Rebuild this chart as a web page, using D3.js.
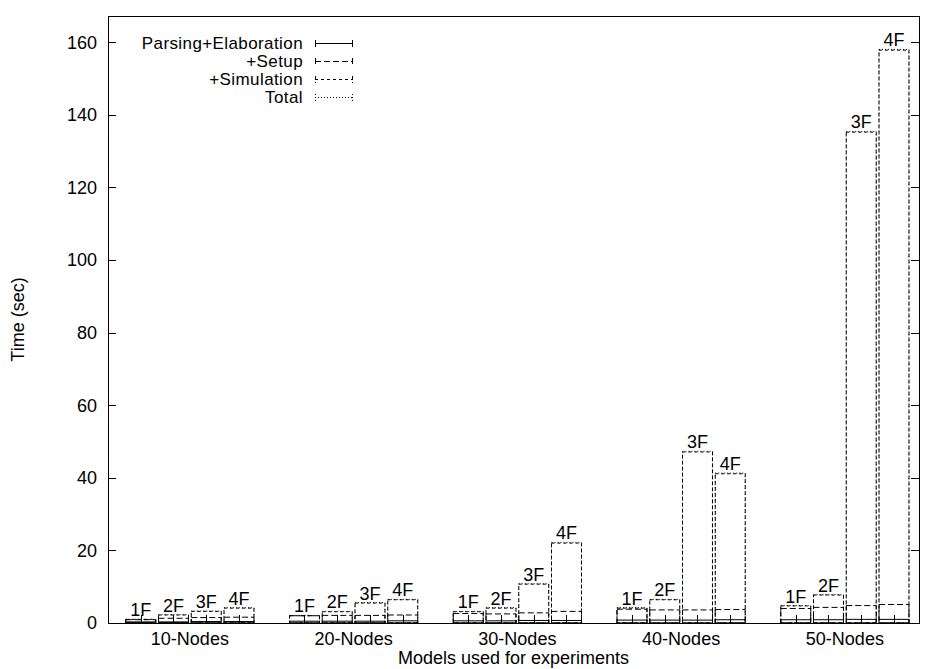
<!DOCTYPE html>
<html>
<head>
<meta charset="utf-8">
<script src="https://cdn.jsdelivr.net/npm/d3@7"></script>
<style>
  body { margin: 0; background: #fff; }
  text { font-family: "Liberation Sans", Arial, sans-serif; font-size: 18px; fill: #000; }
</style>
</head>
<body>
<svg id="chart" width="929" height="669"></svg>
<script>
// models (x groups) and bars within each group
const models = ["10-Nodes", "20-Nodes", "30-Nodes", "40-Nodes", "50-Nodes"];
const faults = ["1F", "2F", "3F", "4F"];

// cumulative times (sec), one row per model, one value per fault count
const parsing = [
    [0.3, 0.3, 0.4, 0.4],
    [0.5, 0.5, 0.5, 0.6],
    [0.6, 0.6, 0.7, 0.7],
    [0.8, 0.8, 0.8, 0.9],
    [0.9, 0.9, 1.0, 1.0]
];
const setup = [
    [0.9, 1.3, 1.5, 1.6],
    [2.0, 2.1, 2.1, 2.2],
    [2.6, 2.5, 2.8, 3.2],
    [3.8, 3.6, 3.6, 3.7],
    [4.0, 4.3, 4.8, 5.1]
];
const simulation = [
    [1.0, 2.2, 3.2, 4.1],
    [2.0, 3.1, 5.5, 6.4],
    [3.1, 4.1, 10.7, 22.0],
    [4.1, 6.4, 47.1, 41.1],
    [4.7, 7.7, 135.2, 157.8]
];
const total = [
    [1.0, 2.3, 3.3, 4.2],
    [2.1, 3.2, 5.6, 6.5],
    [3.2, 4.2, 10.8, 22.2],
    [4.2, 6.5, 47.3, 41.3],
    [4.8, 7.8, 135.4, 158.0]
];
const yTicks = [0, 20, 40, 60, 80, 100, 120, 140, 160];

const seriesNames = ["Parsing+Elaboration", "+Setup", "+Simulation", "Total"];
const seriesData = [parsing, setup, simulation, total];
const dashes = [null, "6,3", "3,3", "1,2"];

let svg = d3.select("#chart");

let mLeft = 108, mRight = 919, mTop = 16, mBottom = 623;

let x = d3.scaleLinear().domain([-0.5, 4.4527]).range([mLeft, mRight]);
let y = d3.scaleLinear().domain([0, 167.2]).range([mBottom, mTop]);

let slot = 0.2, boxW = 0.183;
let barPos = (g, j) => g + (j - (faults.length - 1) / 2) * slot;

// flatten bars
let bars = [];
models.forEach(function(m, g) {
    faults.forEach(function(f, j) {
        bars.push({ g: g, j: j, label: f });
    });
});

let plot = svg.append("g");

// boxes, drawn from the largest down so the smaller ones stay visible
for (let s = seriesData.length - 1; s >= 0; s--) {
    plot.selectAll(".box" + s)
        .data(bars)
        .enter().append("rect")
        .attr("class", "box" + s)
        .attr("x", d => x(barPos(d.g, d.j) - boxW / 2))
        .attr("width", d => x(boxW) - x(0))
        .attr("y", d => y(seriesData[s][d.g][d.j]))
        .attr("height", d => y(0) - y(seriesData[s][d.g][d.j]))
        .attr("fill", "none")
        .attr("stroke", "#000")
        .attr("stroke-width", 1)
        .attr("stroke-dasharray", dashes[s]);
}

// small ticks at bar centres
plot.selectAll(".ctick")
    .data(bars)
    .enter().append("line")
    .attr("x1", d => Math.round(x(barPos(d.g, d.j))) + 0.5)
    .attr("x2", d => Math.round(x(barPos(d.g, d.j))) + 0.5)
    .attr("y1", mBottom)
    .attr("y2", mBottom - 8)
    .attr("stroke", "#000");

// bar labels
plot.selectAll(".blabel")
    .data(bars)
    .enter().append("text")
    .attr("x", d => x(barPos(d.g, d.j)))
    .attr("y", d => y(total[d.g][d.j]) - 3)
    .attr("text-anchor", "middle")
    .text(d => d.label);

// border
svg.append("rect")
    .attr("x", mLeft + 0.5).attr("y", mTop + 0.5)
    .attr("width", mRight - mLeft).attr("height", mBottom - mTop)
    .attr("fill", "none").attr("stroke", "#000");

// y axis: inward ticks, mirrored on the right
let yAxis = svg.append("g");
yAxis.selectAll(".yt")
    .data(yTicks)
    .enter().append("path")
    .attr("d", d => {
        let yy = Math.round(y(d)) + 0.5;
        return "M" + mLeft + "," + yy + "h8M" + mRight + "," + yy + "h-8";
    })
    .attr("stroke", "#000");
yAxis.selectAll(".yl")
    .data(yTicks)
    .enter().append("text")
    .attr("x", mLeft - 11)
    .attr("y", d => y(d))
    .attr("dy", "0.36em")
    .attr("text-anchor", "end")
    .text(d => d);

// x labels
svg.selectAll(".xl")
    .data(models)
    .enter().append("text")
    .attr("x", (d, i) => x(i))
    .attr("y", 645)
    .attr("text-anchor", "middle")
    .text(d => d);

svg.append("text")
    .attr("x", (mLeft + mRight) / 2)
    .attr("y", 664)
    .attr("text-anchor", "middle")
    .text("Models used for experiments");

svg.append("text")
    .attr("transform", "translate(24," + (mTop + mBottom) / 2 + ") rotate(-90)")
    .attr("text-anchor", "middle")
    .text("Time (sec)");

// legend
let legend = svg.append("g");
seriesNames.forEach(function(name, i) {
    let yy = 43 + i * 18;
    legend.append("text")
        .attr("x", 303).attr("y", yy).attr("dy", "0.36em")
        .attr("text-anchor", "end")
        .attr("textLength", null)
        .style("font-size", "17px")
        .style("letter-spacing", "0.4px")
        .text(name);
    legend.append("path")
        .attr("d", "M315," + (yy + 0.5) + "H353M315.5," + (yy - 3) + "v7M352.5," + (yy - 3) + "v7")
        .attr("stroke", "#000")
        .attr("stroke-dasharray", dashes[i]);
});
</script>
</body>
</html>
